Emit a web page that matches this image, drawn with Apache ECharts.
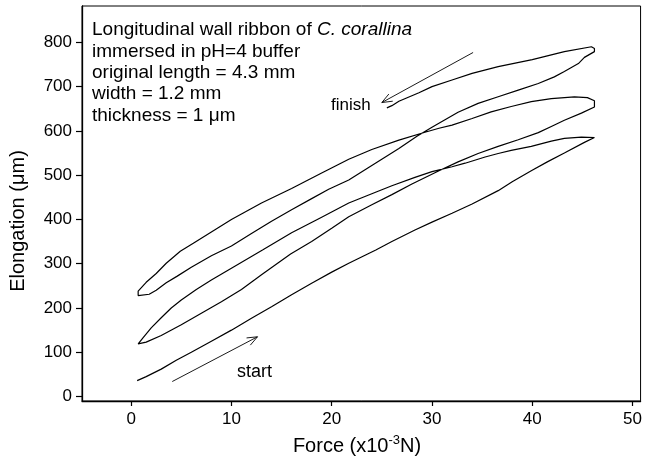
<!DOCTYPE html>
<html>
<head>
<meta charset="utf-8">
<script src="https://cdn.jsdelivr.net/npm/echarts@6/dist/echarts.min.js"></script>
<style>
  html, body { margin: 0; padding: 0; background: #fff; }
  #chart { width: 645px; height: 464px; }
</style>
</head>
<body>
<div id="chart"></div>
<script>
// tick labels
const xTicks = [0, 10, 20, 30, 40, 50];
const yTicks = [0, 100, 200, 300, 400, 500, 600, 700, 800];

// force (x10^-3 N), elongation (um), in recording order
const load1 = [[0.6,36],[1.5,45],[3,62],[4.5,82],[6,100],[8,125],[10,150],[12,177],[14,203],[16,230],[18,256],[20,281],[21.7,301],[24.4,331],[26,350],[28.3,376],[30,394],[32,414],[34,435],[36.6,465],[38,485],[39.9,510],[41.5,530],[43.2,550],[45.2,574],[46.2,585]];
const unload1 = [[46.2,587],[44.9,586],[43.2,583],[41.9,577],[39.9,565],[37.9,556],[36.6,549],[35.3,541],[33.3,527],[32,519],[30,508],[28.3,495],[26,476],[24,458],[21.7,437],[19,405],[16,370],[13.1,331],[10,290],[8,263],[6.5,242],[5,218],[4,200],[3,178],[2,155],[1.2,133],[0.7,119]];
const load2 = [[0.7,119],[1.5,123],[3,138],[5,162],[7,188],[9,214],[11,242],[13,275],[15.9,322],[18,350],[20,380],[21.7,406],[24,433],[26,456],[28,480],[30.7,510],[32.6,530],[34.6,549],[36.6,565],[38.6,580],[40.6,596],[41.9,610],[43.2,624],[44.9,640],[46.2,654]];
const unload2 = [[46.2,654],[46.2,668],[45.5,675],[44.2,677],[41.9,673],[39.9,666],[37.9,655],[35.9,643],[34,628],[32,613],[30.7,606],[29.3,597],[26.7,579],[24,558],[21.7,536],[19,505],[16,470],[13,437],[10,400],[7.8,369],[6.2,346],[4.9,328],[3.5,301],[2.5,278],[1.5,258],[0.7,238],[0.7,228]];
const load3 = [[0.7,228],[1.8,231],[2.5,240],[3.5,257],[4.6,272],[6,292],[8,318],[10,340],[12,368],[14,396],[16,422],[18,447],[19.7,468],[21.7,489],[24,522],[26.7,560],[28.5,588],[30,608],[31.3,625],[32.6,642],[34.6,662],[36.6,677],[38.6,692],[40.6,707],[42.2,722],[43.2,734],[44.6,752],[45.2,766],[46.2,779]];
const unload3 = [[46.2,779],[46.2,786],[45.9,790],[43.2,779],[40,761],[36.6,745],[34,730],[32,715],[30,700],[28.7,686],[26.7,667],[26,657],[25.5,652]];

// annotation arrows, tail -> head, in data units
const startArrow = [[4.1,34],[12.6,135]];
const finishArrow = [[34.1,777],[25.0,664]];

const infoLines = [
  'immersed in pH=4 buffer',
  'original length = 4.3 mm',
  'width = 1.2 mm',
  'thickness = 1 \u03bcm'
];

const path = load1.concat(unload1, load2, unload2, load3, unload3);
const FONT = "'Liberation Sans', Arial, Helvetica, sans-serif";

const chart = echarts.init(document.getElementById('chart'));
chart.setOption({
  animation: false,
  grid: { left: 82, right: 2, top: 6, bottom: 63, show: true, borderColor: '#000', borderWidth: 1 },
  xAxis: {
    type: 'value', min: -4.9, max: 50.8,
    splitLine: { show: false },
    axisLine: { onZero: false, lineStyle: { color: '#000', width: 1.3 } },
    axisTick: { customValues: xTicks, length: 5, lineStyle: { color: '#000', width: 1.2 } },
    axisLabel: { customValues: xTicks, color: '#000', fontSize: 17, margin: 10, fontFamily: FONT }
  },
  yAxis: {
    type: 'value', min: -10, max: 882,
    splitLine: { show: false },
    axisLine: { onZero: false, lineStyle: { color: '#000', width: 1.3 } },
    axisTick: { customValues: yTicks, length: 6, lineStyle: { color: '#000', width: 1.2 } },
    axisLabel: { customValues: yTicks, color: '#000', fontSize: 17, margin: 10, fontFamily: FONT }
  },
  series: [{
    type: 'line',
    data: path,
    showSymbol: false,
    silent: true,
    lineStyle: { color: '#000', width: 1.2 }
  }]
});

function arrow(pts) {
  const a = chart.convertToPixel({ gridIndex: 0 }, pts[0]);
  const b = chart.convertToPixel({ gridIndex: 0 }, pts[1]);
  const ang = Math.atan2(a[1] - b[1], a[0] - b[0]);
  const len = 11, spread = 0.38;
  const p1 = [b[0] + len * Math.cos(ang + spread), b[1] + len * Math.sin(ang + spread)];
  const p2 = [b[0] + len * Math.cos(ang - spread), b[1] + len * Math.sin(ang - spread)];
  const st = { stroke: '#000', lineWidth: 0.9, fill: null };
  return [
    { type: 'polyline', shape: { points: [a, b] }, style: st, silent: true },
    { type: 'polyline', shape: { points: [p1, b, p2] }, style: st, silent: true }
  ];
}

function label(text, x, y, size) {
  return {
    type: 'text', x: x, y: y, silent: true,
    style: {
      text: text, fill: '#000', fontSize: size, fontFamily: FONT,
      align: 'left', verticalAlign: 'middle', textAlign: 'left', textVerticalAlign: 'middle'
    }
  };
}

const graphics = [].concat(arrow(startArrow), arrow(finishArrow));
graphics.push({
  type: 'text', x: 92, y: 30, silent: true,
  style: {
    text: 'Longitudinal wall ribbon of {i|C. corallina}',
    fill: '#000', fontSize: 19, fontFamily: FONT,
    align: 'left', verticalAlign: 'middle', textAlign: 'left', textVerticalAlign: 'middle',
    rich: { i: { fontStyle: 'italic', fontSize: 19, fontFamily: FONT, fill: '#000' } }
  }
});
infoLines.forEach(function (t, i) {
  graphics.push(label(t, 92, 51.5 + i * 21.3, 19));
});
graphics.push(label('finish', 331, 105, 17));
graphics.push(label('start', 237, 372, 18));
graphics.push({
  type: 'text', x: 357, y: 446, silent: true,
  style: {
    text: 'Force (x10{s|-3}N)', fill: '#000', fontSize: 20, fontFamily: FONT,
    align: 'center', verticalAlign: 'middle', textAlign: 'center', textVerticalAlign: 'middle',
    rich: { s: { fontSize: 13, verticalAlign: 'top', fontFamily: FONT, fill: '#000', lineHeight: 24 } }
  }
});
graphics.push({
  type: 'text', x: 18, y: 221, rotation: Math.PI / 2, silent: true,
  style: {
    text: 'Elongation (\u03bcm)', fill: '#000', fontSize: 20, fontFamily: FONT,
    align: 'center', verticalAlign: 'middle', textAlign: 'center', textVerticalAlign: 'middle'
  }
});
chart.setOption({ graphic: graphics });
</script>
</body>
</html>
